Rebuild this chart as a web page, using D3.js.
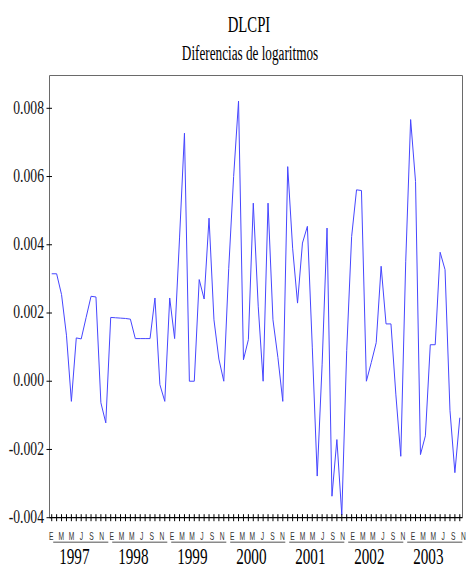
<!DOCTYPE html>
<html><head><meta charset="utf-8">
<script src="https://cdn.jsdelivr.net/npm/d3@7"></script>
<style>body{margin:0;background:#fff}</style></head>
<body>
<script>
// ---- data ----
const title = "DLCPI";
const subtitle = "Diferencias de logaritmos";
const years = [1997, 1998, 1999, 2000, 2001, 2002, 2003];
const monthLetters = ["E","F","M","A","M","J","J","A","S","O","N","D"];
const yTicks = [-0.004, -0.002, 0.000, 0.002, 0.004, 0.006, 0.008];
const yTickLabels = ["-0.004","-0.002","0.000","0.002","0.004","0.006","0.008"];
// monthly values Jan 1997 .. Dec 2003
const dlcpi = [
  0.00315, 0.00315, 0.00254, 0.00135, -0.00059, 0.00127, 0.00124, 0.00187, 0.00249, 0.00247, -0.00063, -0.00122,
  0.00187, 0.00186, 0.00185, 0.00184, 0.00182, 0.00125, 0.00125, 0.00125, 0.00125, 0.00244, -0.00010, -0.00059,
  0.00244, 0.00125, 0.00420, 0.00727, 0.00000, 0.00000, 0.00298, 0.00241, 0.00478, 0.00180, 0.00065, 0.00000,
  0.00330, 0.00600, 0.00821, 0.00063, 0.00122, 0.00522, 0.00220, 0.00000, 0.00522, 0.00180, 0.00070, -0.00059,
  0.00629, 0.00390, 0.00229, 0.00405, 0.00454, 0.00100, -0.00278, 0.00050, 0.00449, -0.00337, -0.00171, -0.00392,
  0.00090, 0.00424, 0.00561, 0.00559, 0.00000, 0.00055, 0.00113, 0.00337, 0.00168, 0.00168, -0.00040, -0.00220,
  0.00350, 0.00767, 0.00585, -0.00215, -0.00160, 0.00107, 0.00107, 0.00378, 0.00327, -0.00085, -0.00268, -0.00107
];

// ---- layout ----
const W = 470, H = 570;
const frameL = 49.5, frameR = 462.5, frameT = 75.5, frameB = 517.7;
const svg = d3.select("body").append("svg").attr("width", W).attr("height", H);

const n = dlcpi.length;
const x = d3.scaleLinear().domain([-0.45, n - 1 + 0.55]).range([frameL, frameR]);
const xLab = d3.scaleLinear().domain([0, n - 2]).range([51.3, 463.3]);
const y = d3.scaleLinear().domain([-0.004, 0.008]).range([frameB, 108.3]);

const serif = "'Liberation Serif','Times New Roman',serif";
const sans = "'Liberation Sans',Arial,sans-serif";

function condText(g, str, px, py, size, sx, anchor, family, fill) {
  return g.append("text")
    .attr("transform", `translate(${px},${py}) scale(${sx},1)`)
    .attr("text-anchor", anchor)
    .attr("font-family", family)
    .attr("font-size", size)
    .attr("fill", fill)
    .text(str);
}

// titles
condText(svg, title, 249, 31.7, 23, 0.64, "middle", serif, "#000");
condText(svg, subtitle, 250, 60, 20, 0.66, "middle", serif, "#000");

// frame (top, left, right)
svg.append("path")
  .attr("d", `M${frameL},${frameB}V${frameT}H${frameR}V${frameB}`)
  .attr("fill", "none").attr("stroke", "#6a6a6a").attr("stroke-width", 1);

// series line
const line = d3.line().x((d, i) => x(i)).y(d => y(d));
svg.append("path").datum(dlcpi)
  .attr("d", line)
  .attr("fill", "none")
  .attr("stroke", "#4646ff")
  .attr("stroke-width", 1)
  .attr("stroke-linejoin", "miter");

// bottom axis line
svg.append("line").attr("x1", frameL).attr("x2", frameR)
  .attr("y1", frameB).attr("y2", frameB)
  .attr("stroke", "#000").attr("stroke-width", 1.2);

// bottom ticks (one per month, crossing the axis)
svg.append("g").selectAll("line").data(d3.range(n)).join("line")
  .attr("x1", i => x(i)).attr("x2", i => x(i))
  .attr("y1", frameB - 3.5).attr("y2", frameB + 3.5)
  .attr("stroke", "#000").attr("stroke-width", 1);

// y ticks and labels
const yg = svg.append("g");
yTicks.forEach((t, i) => {
  yg.append("line").attr("x1", frameL - 3).attr("x2", frameL + 2.5)
    .attr("y1", y(t)).attr("y2", y(t)).attr("stroke", "#000").attr("stroke-width", 1);
  condText(yg, yTickLabels[i], 44, y(t) + 5.2, 19, 0.72, "end", serif, "#111");
});

// month letters at odd months (E, M, M, J, S, N)
const mg = svg.append("g");
for (let k = 0; k < n; k += 2) {
  condText(mg, monthLetters[k % 12], xLab(k), 540, 11.5, 0.58, "middle", sans, "#333");
}

// year underlines and year labels
years.forEach((yr, j) => {
  const m0 = j * 12;
  svg.append("line")
    .attr("x1", x(m0) + 1.5).attr("x2", x(m0 + 11) + 2.5)
    .attr("y1", 542.2).attr("y2", 542.2)
    .attr("stroke", "#8a8a8a").attr("stroke-width", 1.6);
  condText(svg, String(yr), x(m0 + 4.6), 564, 23, 0.66, "middle", serif, "#000");
});
</script>
</body></html>
